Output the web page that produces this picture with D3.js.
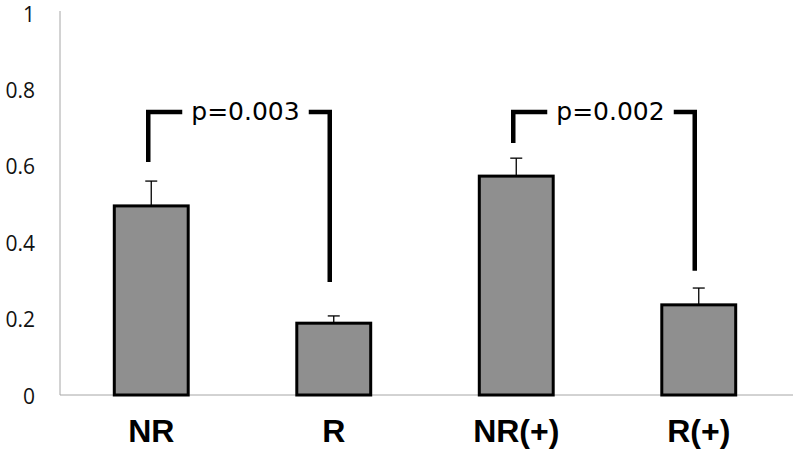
<!DOCTYPE html>
<html>
<head>
<meta charset="utf-8">
<script src="https://cdn.jsdelivr.net/npm/d3@7"></script>
<style>
body { margin: 0; background: #fff; }
</style>
</head>
<body>
<svg id="chart" width="793" height="453"></svg>
<script>
var categories = ["NR", "R", "NR(+)", "R(+)"]
var means = [0.495, 0.188, 0.573, 0.236]
var errors = [0.065, 0.019, 0.047, 0.044]
var yTicks = [0, 0.2, 0.4, 0.6, 0.8, 1]
var tickLabels = ["0", "0.2", "0.4", "0.6", "0.8", "1"]

var compFrom = ["NR", "NR(+)"]
var compTo = ["R", "R(+)"]
var compLabels = ["p=0.003", "p=0.002"]
var compTop = [0.741, 0.741]
var compLeftEnd = [0.61, 0.66]
var compRightEnd = [0.296, 0.325]

var plotLeft = 60, plotRight = 790, plotTop = 13, plotBottom = 395

var svg = d3.select("#chart")

var x = d3.scaleBand()
	.domain(categories)
	.range([plotLeft, plotRight])
	.paddingInner(0.595)
	.paddingOuter(0.2975)

var y = d3.scaleLinear()
	.domain([0, 1])
	.range([plotBottom, plotTop])

// axes
svg.append("line")
	.attr("x1", plotLeft).attr("x2", plotLeft)
	.attr("y1", y(1) - 2).attr("y2", plotBottom)
	.attr("stroke", "#a6a6a6").attr("stroke-width", 1)

svg.append("line")
	.attr("x1", plotLeft).attr("x2", 793)
	.attr("y1", plotBottom).attr("y2", plotBottom)
	.attr("stroke", "#a6a6a6").attr("stroke-width", 1)

svg.selectAll(".ytick")
	.data(yTicks)
	.enter()
	.append("text")
	.attr("class", "ytick")
	.attr("x", 35)
	.attr("y", function(d) {return y(d) + 8.5;})
	.attr("text-anchor", "end")
	.attr("font-family", "Open Sans")
	.attr("font-size", "21px")
	.attr("fill", "#111")
	.text(function(d, i) {return tickLabels[i];})

// bars
svg.selectAll(".bar")
	.data(means)
	.enter()
	.append("rect")
	.attr("class", "bar")
	.attr("x", function(d, i) {return x(categories[i]);})
	.attr("y", function(d) {return y(d);})
	.attr("width", x.bandwidth())
	.attr("height", function(d) {return plotBottom - y(d);})
	.attr("fill", "#8f8f8f")
	.attr("stroke", "#000")
	.attr("stroke-width", 3)

// error bars
var errG = svg.selectAll(".err")
	.data(means)
	.enter()
	.append("g")
	.attr("class", "err")

errG.append("line")
	.attr("x1", function(d, i) {return x(categories[i]) + x.bandwidth() / 2;})
	.attr("x2", function(d, i) {return x(categories[i]) + x.bandwidth() / 2;})
	.attr("y1", function(d) {return y(d);})
	.attr("y2", function(d, i) {return y(d + errors[i]);})
	.attr("stroke", "#000").attr("stroke-width", 1.3)

errG.append("line")
	.attr("x1", function(d, i) {return x(categories[i]) + x.bandwidth() / 2 - 6;})
	.attr("x2", function(d, i) {return x(categories[i]) + x.bandwidth() / 2 + 6;})
	.attr("y1", function(d, i) {return y(d + errors[i]);})
	.attr("y2", function(d, i) {return y(d + errors[i]);})
	.attr("stroke", "#000").attr("stroke-width", 1.3)

// category labels
svg.selectAll(".xlab")
	.data(categories)
	.enter()
	.append("text")
	.attr("class", "xlab")
	.attr("x", function(d) {return x(d) + x.bandwidth() / 2;})
	.attr("y", 442)
	.attr("text-anchor", "middle")
	.attr("font-family", "Liberation Sans")
	.attr("font-weight", "bold")
	.attr("font-size", "32px")
	.attr("fill", "#000")
	.text(function(d) {return d;})

// significance brackets
compLabels.forEach(function(lab, i) {
	var xl = x(compFrom[i]) + x.bandwidth() / 2 - 3
	var xr = x(compTo[i]) + x.bandwidth() / 2 - 4
	var yt = y(compTop[i])
	// centre text in the gap between the two short arms
	var mid = ((xl + 34) + (xr - 21)) / 2

	svg.append("path")
		.attr("d", "M" + xl + "," + y(compLeftEnd[i]) + "V" + yt + "H" + (xl + 34))
		.attr("fill", "none").attr("stroke", "#000").attr("stroke-width", 4.5)

	svg.append("path")
		.attr("d", "M" + (xr - 21) + "," + yt + "H" + xr + "V" + y(compRightEnd[i]))
		.attr("fill", "none").attr("stroke", "#000").attr("stroke-width", 4.5)

	svg.append("text")
		.attr("x", mid)
		.attr("y", yt + 8)
		.attr("text-anchor", "middle")
		.attr("font-family", "DejaVu Sans")
		.attr("font-size", "25px")
		.attr("fill", "#000")
		.text(lab)
})
</script>
</body>
</html>
